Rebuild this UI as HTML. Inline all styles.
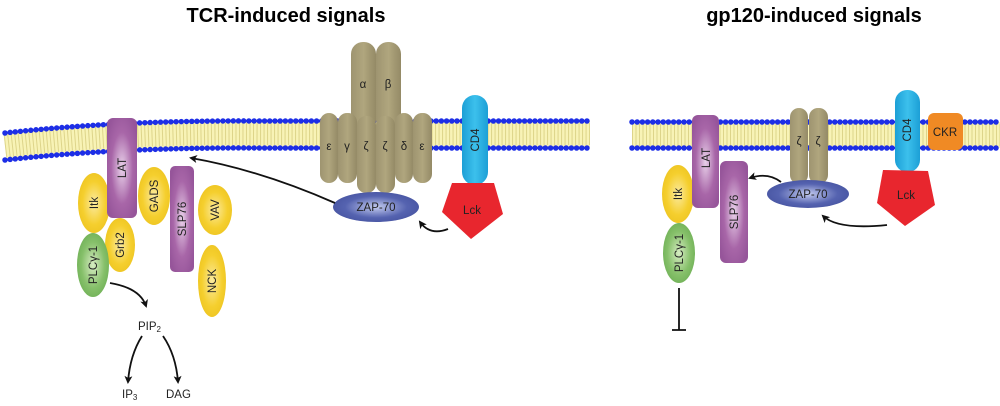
<!DOCTYPE html>
<html><head><meta charset="utf-8"><style>
html,body{margin:0;padding:0;background:#fff;}
svg{display:block;font-family:"Liberation Sans",sans-serif;}
</style></head><body>
<svg width="1000" height="406" viewBox="0 0 1000 406" xmlns="http://www.w3.org/2000/svg">
<defs>
<radialGradient id="pu" cx="0.5" cy="0.5" r="0.6"><stop offset="0" stop-color="#e9d2ea"/><stop offset="0.6" stop-color="#a866a8"/><stop offset="1" stop-color="#96559a"/></radialGradient>
<radialGradient id="ye" cx="0.5" cy="0.5" r="0.6"><stop offset="0" stop-color="#fbeaa0"/><stop offset="0.6" stop-color="#f5cf2e"/><stop offset="1" stop-color="#ecc21e"/></radialGradient>
<radialGradient id="gr" cx="0.5" cy="0.5" r="0.6"><stop offset="0" stop-color="#d6ecc2"/><stop offset="0.6" stop-color="#86c06a"/><stop offset="1" stop-color="#6aad52"/></radialGradient>
<radialGradient id="bl" cx="0.5" cy="0.5" r="0.6"><stop offset="0" stop-color="#c3cbef"/><stop offset="0.6" stop-color="#5563b0"/><stop offset="1" stop-color="#44519e"/></radialGradient>
<linearGradient id="ol" x1="0" x2="1"><stop offset="0" stop-color="#9e9470"/><stop offset="0.5" stop-color="#b0a67e"/><stop offset="1" stop-color="#948a66"/></linearGradient>
<linearGradient id="cy" x1="0" x2="1"><stop offset="0" stop-color="#1c9fd6"/><stop offset="0.5" stop-color="#3cc0ec"/><stop offset="1" stop-color="#1c9fd6"/></linearGradient>
<marker id="ah" markerWidth="8" markerHeight="8" refX="6" refY="4" orient="auto" markerUnits="userSpaceOnUse"><path d="M0,0 L8,4 L0,8 L2,4 Z" fill="#111"/></marker>
</defs>

<text x="286" y="22" font-size="20" font-weight="bold" text-anchor="middle">TCR-induced signals</text>
<text x="814" y="22" font-size="20" font-weight="bold" text-anchor="middle">gp120-induced signals</text>

<path d="M5,146 Q120,133 260,134 L590,134" fill="none" stroke="#f8f3b6" stroke-width="26"/>
<path d="M5,146 Q120,133 260,134 L590,134" fill="none" stroke="#ddd48a" stroke-width="22" stroke-dasharray="1 2.5"/>
<path d="M5,133 Q120,120 260,121 L590,121" fill="none" stroke="#1d2ee6" stroke-width="5.5" stroke-linecap="round" stroke-dasharray="0 5.2"/>
<path d="M5,160 Q120,147 260,148 L590,148" fill="none" stroke="#1d2ee6" stroke-width="5.5" stroke-linecap="round" stroke-dasharray="0 5.2"/>
<path d="M632,135 L1000,135" fill="none" stroke="#f8f3b6" stroke-width="26"/>
<path d="M632,135 L1000,135" fill="none" stroke="#ddd48a" stroke-width="22" stroke-dasharray="1 2.5"/>
<path d="M632,122 L1000,122" fill="none" stroke="#1d2ee6" stroke-width="5.5" stroke-linecap="round" stroke-dasharray="0 5.2"/>
<path d="M632,148 L1000,148" fill="none" stroke="#1d2ee6" stroke-width="5.5" stroke-linecap="round" stroke-dasharray="0 5.2"/>

<g font-size="11.5" fill="#222">
<ellipse cx="94" cy="203" rx="16" ry="30" fill="url(#ye)"/>
<text transform="translate(98,203) rotate(-90)" text-anchor="middle">Itk</text>
<ellipse cx="120" cy="245" rx="15" ry="27" fill="url(#ye)"/>
<text transform="translate(124,245) rotate(-90)" text-anchor="middle">Grb2</text>
<rect x="107" y="118" width="30" height="100" rx="6" fill="url(#pu)"/>
<text transform="translate(126,168) rotate(-90)" text-anchor="middle">LAT</text>
<ellipse cx="93" cy="265" rx="16" ry="32" fill="url(#gr)"/>
<text transform="translate(97,265) rotate(-90)" text-anchor="middle">PLCγ-1</text>
<ellipse cx="154" cy="196" rx="16" ry="29" fill="url(#ye)"/>
<text transform="translate(158,196) rotate(-90)" text-anchor="middle">GADS</text>
<ellipse cx="212" cy="281" rx="14" ry="36" fill="url(#ye)"/>
<text transform="translate(216,281) rotate(-90)" text-anchor="middle">NCK</text>
<rect x="170" y="166" width="24" height="106" rx="5" fill="url(#pu)"/>
<text transform="translate(186,219) rotate(-90)" text-anchor="middle">SLP76</text>
<ellipse cx="215" cy="210" rx="17" ry="25" fill="url(#ye)"/>
<text transform="translate(219,210) rotate(-90)" text-anchor="middle">VAV</text>

<rect x="351" y="42" width="25" height="90" rx="12" fill="url(#ol)"/>
<rect x="376" y="42" width="25" height="90" rx="12" fill="url(#ol)"/>
<text x="363" y="88" text-anchor="middle">α</text>
<text x="388" y="88" text-anchor="middle">β</text>
<rect x="320" y="113" width="18" height="70" rx="9" fill="url(#ol)"/>
<rect x="338" y="113" width="19" height="70" rx="9" fill="url(#ol)"/>
<rect x="395" y="113" width="18" height="70" rx="9" fill="url(#ol)"/>
<rect x="413" y="113" width="19" height="70" rx="9" fill="url(#ol)"/>
<rect x="357" y="116" width="19" height="77" rx="9" fill="url(#ol)"/>
<rect x="376" y="116" width="19" height="77" rx="9" fill="url(#ol)"/>
<text x="329" y="150" text-anchor="middle">ε</text>
<text x="347" y="150" text-anchor="middle">γ</text>
<text x="366" y="150" text-anchor="middle">ζ</text>
<text x="385" y="150" text-anchor="middle">ζ</text>
<text x="404" y="150" text-anchor="middle">δ</text>
<text x="422" y="150" text-anchor="middle">ε</text>
<ellipse cx="376" cy="207" rx="43" ry="15" fill="url(#bl)"/>
<text x="376" y="211" text-anchor="middle">ZAP-70</text>
<rect x="462" y="95" width="26" height="90" rx="13" fill="url(#cy)"/>
<text transform="translate(479,140) rotate(-90)" text-anchor="middle">CD4</text>
<polygon points="452,183 494,183 503,214 471,239 442,212" fill="#e8262e"/>
<text x="472" y="214" text-anchor="middle">Lck</text>

<ellipse cx="678" cy="194" rx="16" ry="29" fill="url(#ye)"/>
<text transform="translate(682,194) rotate(-90)" text-anchor="middle">Itk</text>
<ellipse cx="679" cy="253" rx="16" ry="30" fill="url(#gr)"/>
<text transform="translate(683,253) rotate(-90)" text-anchor="middle">PLCγ-1</text>
<rect x="692" y="115" width="27" height="93" rx="6" fill="url(#pu)"/>
<text transform="translate(710,158) rotate(-90)" text-anchor="middle">LAT</text>
<rect x="720" y="161" width="28" height="102" rx="6" fill="url(#pu)"/>
<text transform="translate(738,212) rotate(-90)" text-anchor="middle">SLP76</text>
<rect x="790" y="108" width="18" height="76" rx="9" fill="url(#ol)"/>
<rect x="809" y="108" width="19" height="76" rx="9" fill="url(#ol)"/>
<text x="799" y="145" text-anchor="middle">ζ</text>
<text x="818" y="145" text-anchor="middle">ζ</text>
<ellipse cx="808" cy="194" rx="41" ry="14" fill="url(#bl)"/>
<text x="808" y="198" text-anchor="middle">ZAP-70</text>
<rect x="895" y="90" width="25" height="82" rx="12" fill="url(#cy)"/>
<text transform="translate(911,130) rotate(-90)" text-anchor="middle">CD4</text>
<rect x="928" y="113" width="35" height="37" rx="6" fill="#f08a24"/>
<text x="945" y="136" text-anchor="middle">CKR</text>
<polygon points="883,170 928,171 935,205 905,226 877,203" fill="#e8262e"/>
<text x="906" y="199" text-anchor="middle">Lck</text>

<text x="138" y="330">PIP<tspan font-size="8" dy="2">2</tspan></text>
<text x="122" y="398">IP<tspan font-size="8" dy="2">3</tspan></text>
<text x="166" y="398">DAG</text>
</g>

<g fill="none" stroke="#111" stroke-width="1.8">
<path d="M448,229 Q430,236 420,222" marker-end="url(#ah)"/>
<path d="M335,203 Q260,170 191,158" marker-end="url(#ah)"/>
<path d="M110,283 Q140,288 146,306" marker-end="url(#ah)"/>
<path d="M142,336 Q130,355 128,382" marker-end="url(#ah)"/>
<path d="M163,336 Q176,355 178,382" marker-end="url(#ah)"/>
<path d="M781,182 Q768,172 750,178" marker-end="url(#ah)"/>
<path d="M887,225 Q838,230 823,216" marker-end="url(#ah)"/>
<path d="M679,288 L679,330 M672,330 L686,330"/>
</g>
</svg>
</body></html>
